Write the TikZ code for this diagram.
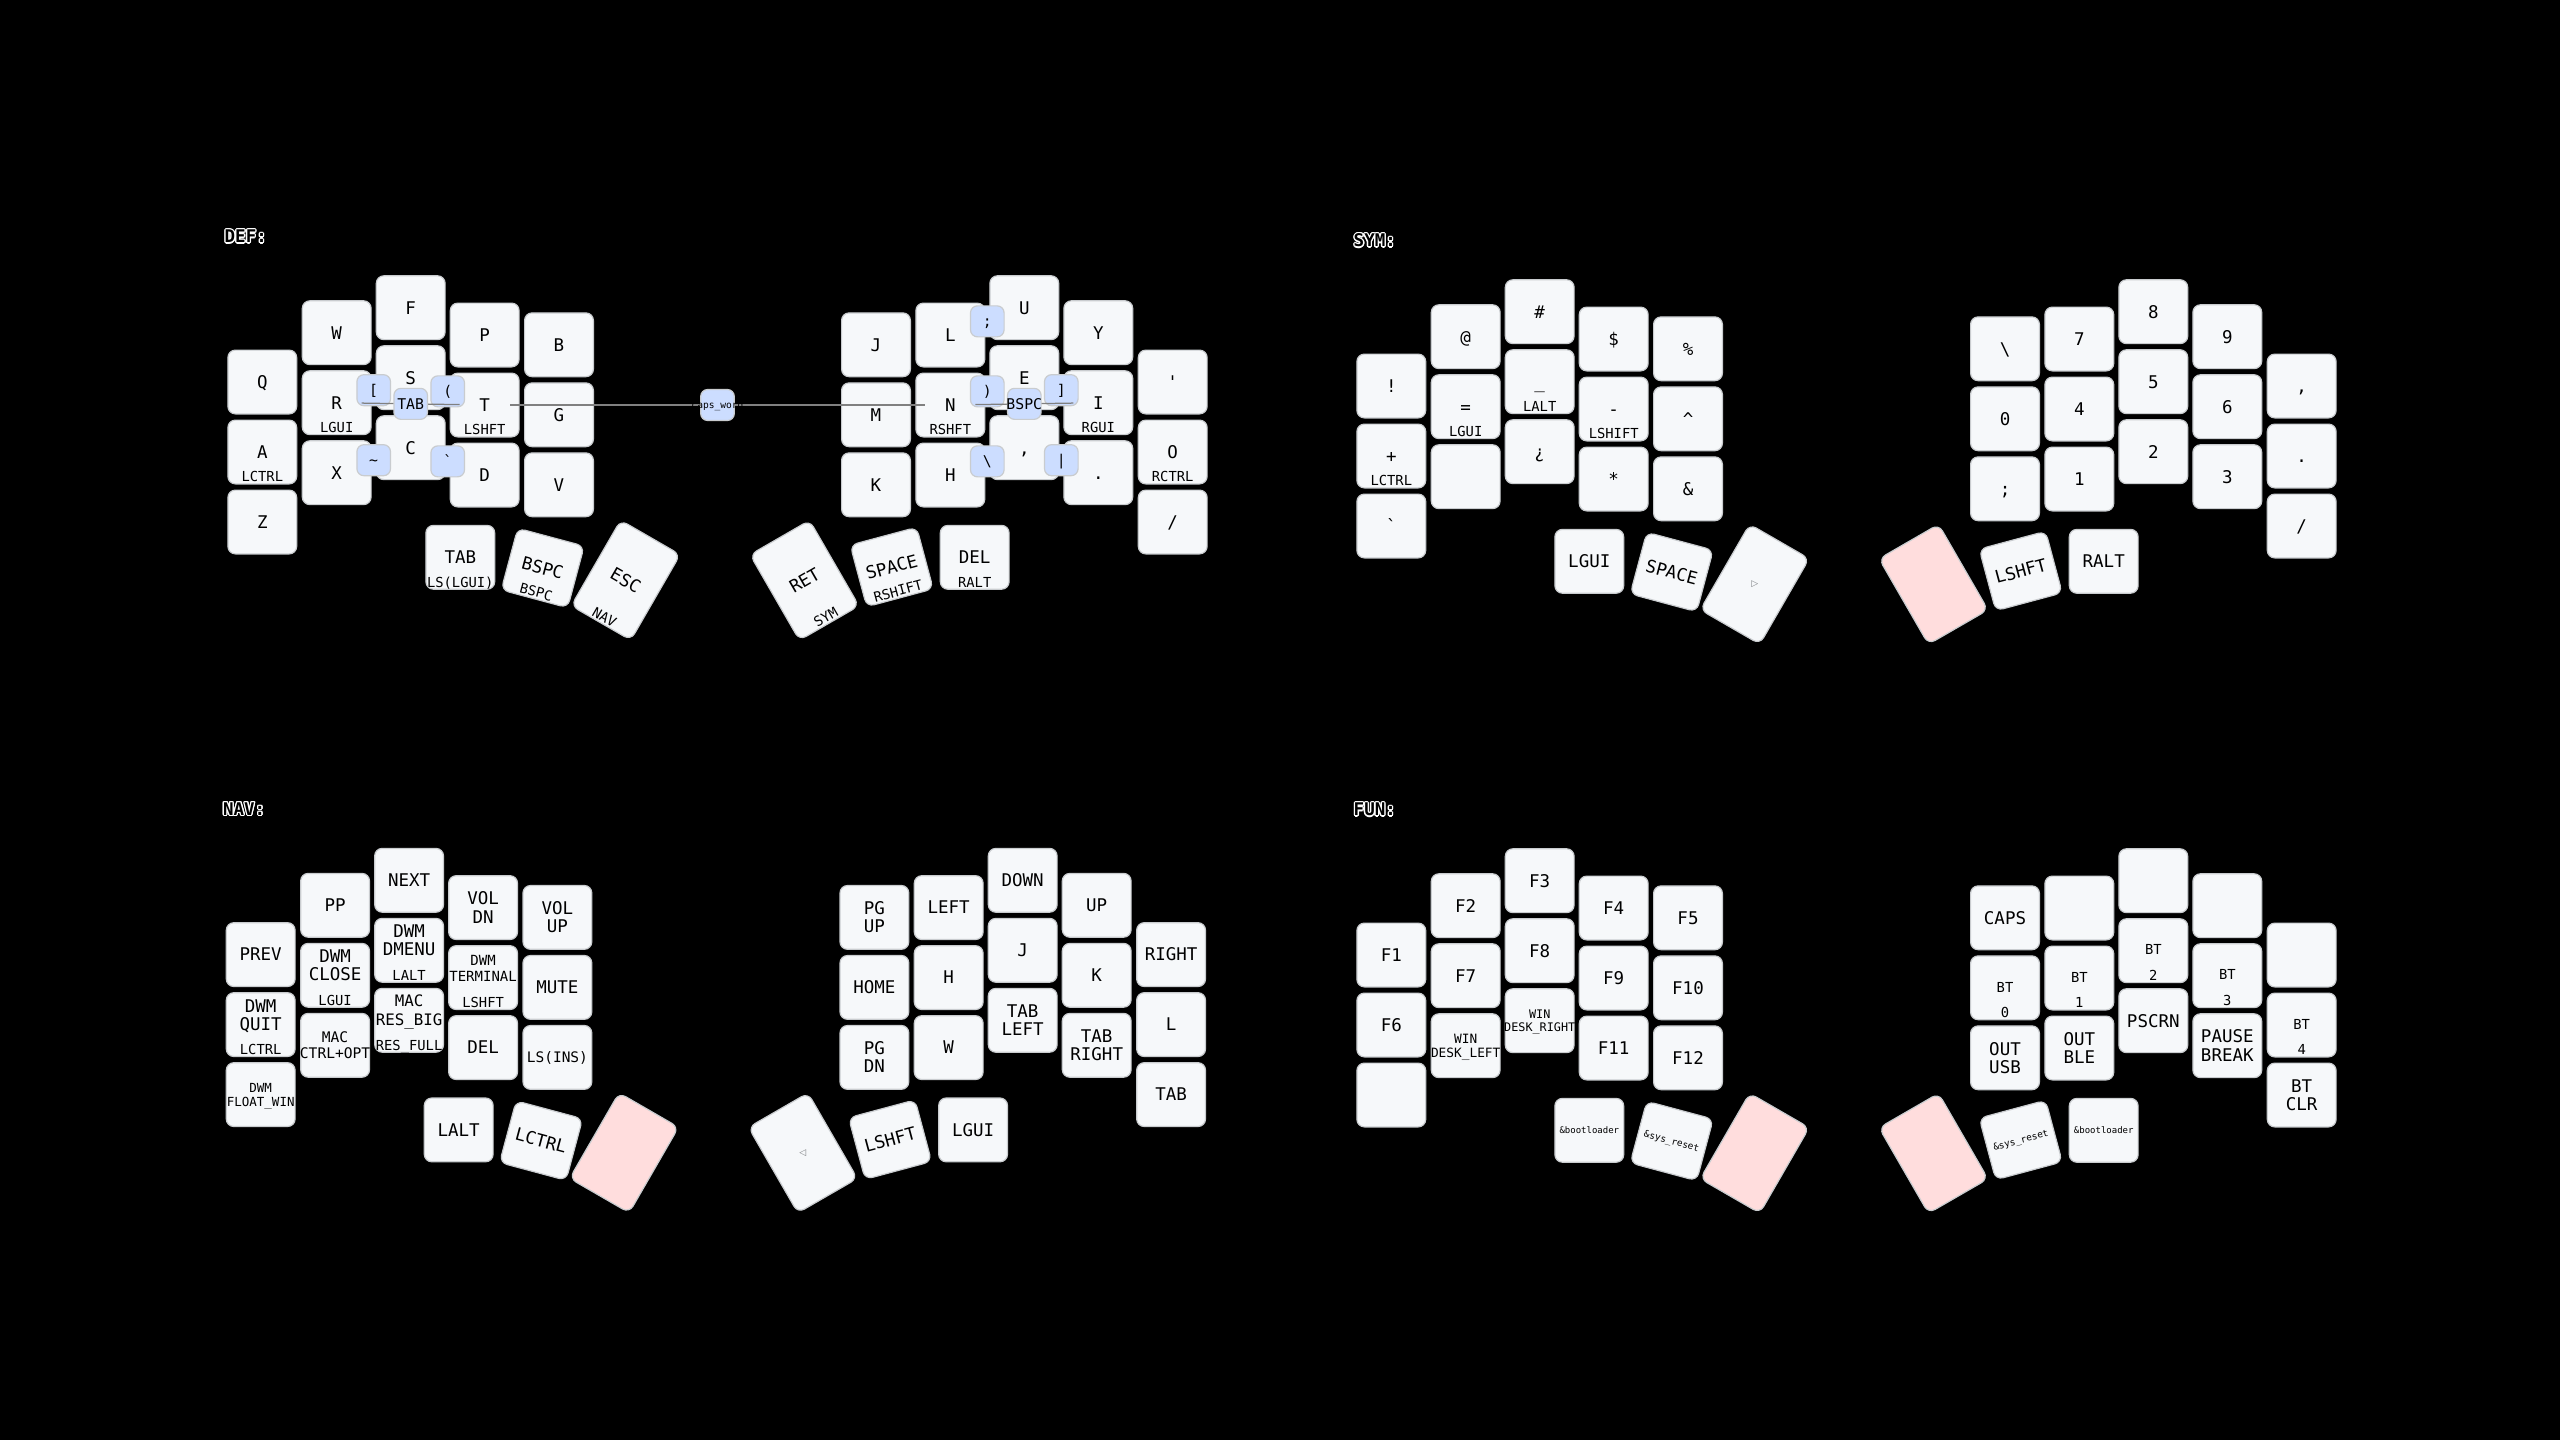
\documentclass[tikz,border=0pt]{standalone}
\usepackage{fontspec}
\newfontfamily\kf{DejaVu Sans Mono}
\newfontfamily\symf{DejaVu Sans}
\usetikzlibrary{calc}
\definecolor{kfill}{HTML}{F6F8FA}
\definecolor{kstroke}{HTML}{C9CCCF}
\definecolor{cfill}{HTML}{CCDDFF}
\definecolor{kheld}{HTML}{FFDDDD}
\definecolor{ktrans}{HTML}{7B7E81}
\definecolor{cline}{HTML}{808080}
\newcommand\lx[1]{\raisebox{0pt}[.729em][0pt]{#1}}
\newcommand\fs[2]{\fontsize{#1}{#2}\selectfont}
\tikzset{
 kbkey/.style={draw=kstroke, fill=kfill, line width=0.6pt, rounded corners=3.75pt, minimum width=34.4pt, minimum height=31.9pt, inner sep=0pt, outer sep=0pt},
 tallkey/.style={minimum height=49.4pt},
 heldkey/.style={fill=kheld},
 tapl/.style={inner sep=0pt, outer sep=0pt, align=center, text=black, font=\kf\fs{8.75}{9.15}},
 holdl/.style={inner sep=0pt, outer sep=0pt, anchor=base, text=black, font=\kf\fs{6.9}{8}},
 combobox/.style={draw=kstroke, fill=cfill, line width=0.6pt, rounded corners=3.5pt, minimum width=16.8pt, minimum height=15.5pt, inner sep=0pt, text=black, font=\kf\fs{7.4}{8}},
 comboline/.style={draw=cline, line width=0.625pt},
 ttl/.style={inner sep=0pt, anchor=base west, font=\kf\bfseries\fs{8.75}{10}},
 transl/.style={text=ktrans, font=\symf\fs{4.5}{5}},
}
\newcommand\KK[5]{\node[kbkey,#3] (#1) at (#2) {}; \node[tapl,#4] at (#1.center) {#5};}
\newcommand\K[3]{\KK{#1}{#2}{}{}{\lx{#3}}}
\newcommand\KE[2]{\node[kbkey] (#1) at (#2) {};}
\newcommand\Hd[3]{\node[holdl,#2] at ($(#1.south)!1pt!(#1.north)$) {#3};}
\newcommand\CB[4]{\node[combobox] (#1) at ($(#2.center)!0.5!(#3.center)$) {\lx{\makebox[0pt]{#4}}};}
\newcommand\CL[4]{\coordinate (#1c) at ($(#2.center)!0.5!(#3.center)$);
 \draw[comboline] (#1c) -- ($(#2.center)!12.5pt!(#1c)$);
 \draw[comboline] (#1c) -- ($(#3.center)!12.5pt!(#1c)$);
 \node[combobox] (#1) at (#1c) {\lx{\makebox[0pt]{#4}}};}
\newcommand\TTL[2]{\foreach \ang in {0,30,...,330} {\node[ttl,text=white,shift={(\ang:0.65pt)}] at (#1) {#2};}
 \node[ttl,text=black] at (#1) {#2};}
\begin{document}
\begin{tikzpicture}[x=0.5pt,y=-0.5pt]
\useasboundingbox (0,0) rectangle (2560,1440);
\fill[black] (0,0) rectangle (2560,1440);
% ================= DEF =================
\begin{scope}
\TTL{224.3,242.7}{DEF:}
\K{dA0}{262.3,382.0}{Q}
\K{dA1}{262.3,452.0}{A} \Hd{dA1}{}{LCTRL}
\K{dA2}{262.3,522.0}{Z}
\K{dB0}{336.7,332.7}{W}
\K{dB1}{336.7,402.7}{R} \Hd{dB1}{}{LGUI}
\K{dB2}{336.7,472.7}{X}
\K{dC0}{410.7,307.7}{F}
\K{dC1}{410.7,377.7}{S}
\K{dC2}{410.7,447.7}{C}
\K{dD0}{484.7,335.0}{P}
\K{dD1}{484.7,405.0}{T} \Hd{dD1}{}{LSHFT}
\K{dD2}{484.7,475.0}{D}
\K{dE0}{559.0,344.8}{B}
\K{dE1}{559.0,414.8}{G}
\K{dE2}{559.0,484.8}{V}
\K{dT1}{460.3,557.3}{TAB} \Hd{dT1}{}{LS(LGUI)}
\KK{dT2}{542.7,568}{rotate=-15}{rotate=-15}{\lx{BSPC}} \Hd{dT2}{rotate=-15}{BSPC}
\KK{dT3}{625.7,580.2}{rotate=-30,tallkey}{rotate=-30}{\lx{ESC}} \Hd{dT3}{rotate=-30}{NAV}
\K{dF0}{876.0,344.8}{J}
\K{dF1}{876.0,414.8}{M}
\K{dF2}{876.0,484.8}{K}
\K{dG0}{950.3,335.0}{L}
\K{dG1}{950.3,405.0}{N} \Hd{dG1}{}{RSHFT}
\K{dG2}{950.3,475.0}{H}
\K{dH0}{1024.3,307.7}{U}
\K{dH1}{1024.3,377.7}{E}
\K{dH2}{1024.3,447.7}{,}
\K{dI0}{1098.3,332.7}{Y}
\K{dI1}{1098.3,402.7}{I} \Hd{dI1}{}{RGUI}
\K{dI2}{1098.3,472.7}{.}
\K{dJ0}{1172.7,382.0}{'}
\K{dJ1}{1172.7,452.0}{O} \Hd{dJ1}{}{RCTRL}
\K{dJ2}{1172.7,522.0}{/}
\KK{dT4}{804.5,580.3}{rotate=30,tallkey}{rotate=30}{\lx{RET}} \Hd{dT4}{rotate=30}{SYM}
\KK{dT5}{891.7,567}{rotate=15}{rotate=15}{\lx{SPACE}} \Hd{dT5}{rotate=15}{RSHIFT}
\K{dT6}{974.7,557.3}{DEL} \Hd{dT6}{}{RALT}
% combos
\CB{dc1}{dB1}{dC1}{[}
\CB{dc2}{dC1}{dD1}{(}
\CB{dc3}{dB2}{dC2}{\textasciitilde}
\CB{dc4}{dC2}{dD2}{\textasciigrave}
\CL{dc5}{dB1}{dD1}{TAB}
\CB{dc6}{dG0}{dH0}{;}
\CB{dc7}{dG1}{dH1}{)}
\CB{dc8}{dH1}{dI1}{]}
\CB{dc9}{dG2}{dH2}{\textbackslash}
\CB{dc10}{dH2}{dI2}{|}
\CL{dc11}{dG1}{dI1}{BSPC}
\coordinate (dcwc) at ($(dD1.center)!0.5!(dG1.center)$);
\draw[comboline] (dcwc) -- ($(dD1.center)!12.5pt!(dcwc)$);
\draw[comboline] (dcwc) -- ($(dG1.center)!12.5pt!(dcwc)$);
\node[combobox,font=\kf\fs{4.8}{6}] (dcw) at (dcwc) {\lx{\makebox[0pt]{caps\_word}}};
\end{scope}
% ================= SYM =================
\begin{scope}[shift={(1129,4)}]
\TTL{224.3,242.7}{SYM:}
\K{sA0}{262.3,382.0}{!}
\K{sA1}{262.3,452.0}{+} \Hd{sA1}{}{LCTRL}
\K{sA2}{262.3,522.0}{\textasciigrave}
\K{sB0}{336.7,332.7}{@}
\K{sB1}{336.7,402.7}{=} \Hd{sB1}{}{LGUI}
\KE{sB2}{336.7,472.7}
\K{sC0}{410.7,307.7}{\#}
\K{sC1}{410.7,377.7}{\_} \Hd{sC1}{}{LALT}
\K{sC2}{410.7,447.7}{¿}
\K{sD0}{484.7,335.0}{\$}
\K{sD1}{484.7,405.0}{-} \Hd{sD1}{}{LSHIFT}
\K{sD2}{484.7,475.0}{*}
\K{sE0}{559.0,344.8}{\%}
\K{sE1}{559.0,414.8}{\textasciicircum}
\K{sE2}{559.0,484.8}{\&}
\K{sT1}{460.3,557.3}{LGUI}
\KK{sT2}{542.7,568}{rotate=-15}{rotate=-15}{\lx{SPACE}}
\KK{sT3}{625.7,580.2}{rotate=-30,tallkey}{transl}{▷}
\K{sF0}{876.0,344.8}{\textbackslash}
\K{sF1}{876.0,414.8}{0}
\K{sF2}{876.0,484.8}{;}
\K{sG0}{950.3,335.0}{7}
\K{sG1}{950.3,405.0}{4}
\K{sG2}{950.3,475.0}{1}
\K{sH0}{1024.3,307.7}{8}
\K{sH1}{1024.3,377.7}{5}
\K{sH2}{1024.3,447.7}{2}
\K{sI0}{1098.3,332.7}{9}
\K{sI1}{1098.3,402.7}{6}
\K{sI2}{1098.3,472.7}{3}
\K{sJ0}{1172.7,382.0}{,}
\K{sJ1}{1172.7,452.0}{.}
\K{sJ2}{1172.7,522.0}{/}
\node[kbkey,rotate=30,tallkey,heldkey] (sT4) at (804.5,580.3) {};
\KK{sT5}{891.7,567}{rotate=15}{rotate=15}{\lx{LSHFT}}
\K{sT6}{974.7,557.3}{RALT}
\end{scope}
% ================= NAV =================
\begin{scope}[shift={(-1.6,572.6)}]
\TTL{224.3,242.7}{NAV:}
\K{nA0}{262.3,382.0}{PREV}
\KK{nA1}{262.3,452.0}{}{yshift=4.9pt}{\lx{DWM}\\\lx{QUIT}} \Hd{nA1}{}{LCTRL}
\KK{nA2}{262.3,522.0}{}{font=\kf\fs{6.25}{6.9}}{\lx{DWM}\\\lx{FLOAT\_WIN}}
\K{nB0}{336.7,332.7}{PP}
\KK{nB1}{336.7,402.7}{}{yshift=5pt}{\lx{DWM}\\\lx{CLOSE}} \Hd{nB1}{}{LGUI}
\KK{nB2}{336.7,472.7}{}{font=\kf\fs{7.3}{7.95}}{\lx{MAC}\\\lx{CTRL+OPT}}
\K{nC0}{410.7,307.7}{NEXT}
\KK{nC1}{410.7,377.7}{}{yshift=5pt}{\lx{DWM}\\\lx{DMENU}} \Hd{nC1}{}{LALT}
\KK{nC2}{410.7,447.7}{}{yshift=5pt,font=\kf\fs{7.9}{9.15}}{\lx{MAC}\\\lx{RES\_BIG}} \Hd{nC2}{}{RES\_FULL}
\KK{nD0}{484.7,335.0}{}{}{\lx{VOL}\\\lx{DN}}
\KK{nD1}{484.7,405.0}{}{yshift=4.4pt,font=\kf\fs{7}{8}}{\lx{DWM}\\\lx{TERMINAL}} \Hd{nD1}{}{LSHFT}
\K{nD2}{484.7,475.0}{DEL}
\KK{nE0}{559.0,344.8}{}{}{\lx{VOL}\\\lx{UP}}
\K{nE1}{559.0,414.8}{MUTE}
\KK{nE2}{559.0,484.8}{}{font=\kf\fs{7.25}{8}}{\lx{LS(INS)}}
\K{nT1}{460.3,557.3}{LALT}
\KK{nT2}{542.7,568}{rotate=-15}{rotate=-15}{\lx{LCTRL}}
\node[kbkey,rotate=-30,tallkey,heldkey] (nT3) at (625.7,580.2) {};
\KK{nF0}{876.0,344.8}{}{}{\lx{PG}\\\lx{UP}}
\K{nF1}{876.0,414.8}{HOME}
\KK{nF2}{876.0,484.8}{}{}{\lx{PG}\\\lx{DN}}
\K{nG0}{950.3,335.0}{LEFT}
\K{nG1}{950.3,405.0}{H}
\K{nG2}{950.3,475.0}{W}
\K{nH0}{1024.3,307.7}{DOWN}
\K{nH1}{1024.3,377.7}{J}
\KK{nH2}{1024.3,447.7}{}{}{\lx{TAB}\\\lx{LEFT}}
\K{nI0}{1098.3,332.7}{UP}
\K{nI1}{1098.3,402.7}{K}
\KK{nI2}{1098.3,472.7}{}{}{\lx{TAB}\\\lx{RIGHT}}
\K{nJ0}{1172.7,382.0}{RIGHT}
\K{nJ1}{1172.7,452.0}{L}
\K{nJ2}{1172.7,522.0}{TAB}
\KK{nT4}{804.5,580.3}{rotate=30,tallkey}{transl}{◁}
\KK{nT5}{891.7,567}{rotate=15}{rotate=15}{\lx{LSHFT}}
\K{nT6}{974.7,557.3}{LGUI}
\end{scope}
% ================= FUN =================
\begin{scope}[shift={(1129,573)}]
\TTL{224.3,242.7}{FUN:}
\K{fA0}{262.3,382.0}{F1}
\K{fA1}{262.3,452.0}{F6}
\KE{fA2}{262.3,522.0}
\K{fB0}{336.7,332.7}{F2}
\K{fB1}{336.7,402.7}{F7}
\KK{fB2}{336.7,472.7}{}{font=\kf\fs{6.4}{7.1}}{\lx{WIN}\\\lx{DESK\_LEFT}}
\K{fC0}{410.7,307.7}{F3}
\K{fC1}{410.7,377.7}{F8}
\KK{fC2}{410.7,447.7}{}{font=\kf\fs{5.9}{6.05}}{\lx{WIN}\\\lx{DESK\_RIGHT}}
\K{fD0}{484.7,335.0}{F4}
\K{fD1}{484.7,405.0}{F9}
\K{fD2}{484.7,475.0}{F11}
\K{fE0}{559.0,344.8}{F5}
\K{fE1}{559.0,414.8}{F10}
\K{fE2}{559.0,484.8}{F12}
\KK{fT1}{460.3,557.3}{}{font=\kf\fs{4.5}{5}}{\lx{\&bootloader}}
\KK{fT2}{542.7,568}{rotate=-15}{rotate=-15,font=\kf\fs{4.7}{5}}{\lx{\&sys\_reset}}
\node[kbkey,rotate=-30,tallkey,heldkey] (fT3) at (625.7,580.2) {};
\K{fF0}{876.0,344.8}{CAPS}
\KK{fF1}{876.0,414.8}{}{font=\kf\fs{6.9}{8},yshift=0.4pt}{\lx{BT}} \Hd{fF1}{}{0}
\KK{fF2}{876.0,484.8}{}{}{\lx{OUT}\\\lx{USB}}
\KE{fG0}{950.3,335.0}
\KK{fG1}{950.3,405.0}{}{font=\kf\fs{6.9}{8},yshift=0.4pt}{\lx{BT}} \Hd{fG1}{}{1}
\KK{fG2}{950.3,475.0}{}{}{\lx{OUT}\\\lx{BLE}}
\KE{fH0}{1024.3,307.7}
\KK{fH1}{1024.3,377.7}{}{font=\kf\fs{6.9}{8},yshift=0.4pt}{\lx{BT}} \Hd{fH1}{}{2}
\K{fH2}{1024.3,447.7}{PSCRN}
\KE{fI0}{1098.3,332.7}
\KK{fI1}{1098.3,402.7}{}{font=\kf\fs{6.9}{8},yshift=0.4pt}{\lx{BT}} \Hd{fI1}{}{3}
\KK{fI2}{1098.3,472.7}{}{}{\lx{PAUSE}\\\lx{BREAK}}
\KE{fJ0}{1172.7,382.0}
\KK{fJ1}{1172.7,452.0}{}{font=\kf\fs{6.9}{8},yshift=0.4pt}{\lx{BT}} \Hd{fJ1}{}{4}
\KK{fJ2}{1172.7,522.0}{}{}{\lx{BT}\\\lx{CLR}}
\node[kbkey,rotate=30,tallkey,heldkey] (fT4) at (804.5,580.3) {};
\KK{fT5}{891.7,567}{rotate=15}{rotate=15,font=\kf\fs{4.7}{5}}{\lx{\&sys\_reset}}
\KK{fT6}{974.7,557.3}{}{font=\kf\fs{4.5}{5}}{\lx{\&bootloader}}
\end{scope}
\end{tikzpicture}
\end{document}
